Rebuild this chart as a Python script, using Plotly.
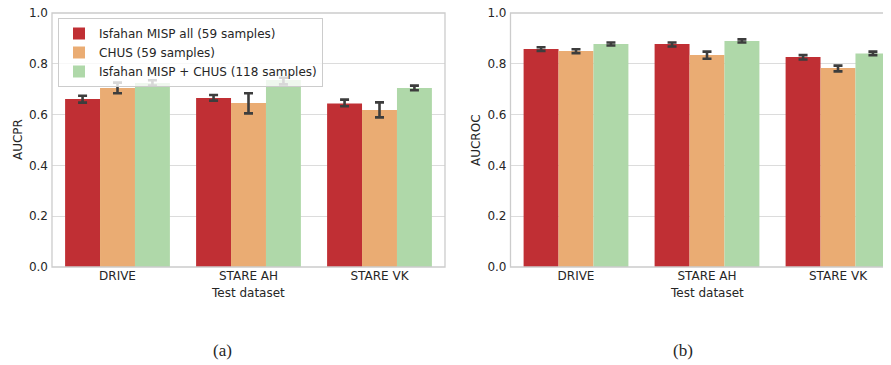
import plotly.graph_objects as go

# page is rendered with an 8px body margin; build the figure so that
# reference pixel coordinates map onto the page exactly
OFF = 8
W, H = 891 - OFF, 365 - OFF

categories = ["DRIVE", "STARE AH", "STARE VK"]
series_names = ["Isfahan MISP all (59 samples)", "CHUS (59 samples)",
                "Isfahan MISP + CHUS (118 samples)"]
colors = ["#c02f34", "#eaac73", "#afd8a9"]

# AUCPR (panel a): mean, lower CI, upper CI
aucpr_mean = [[0.661, 0.665, 0.644],
              [0.705, 0.646, 0.618],
              [0.724, 0.736, 0.705]]
aucpr_low = [[0.647, 0.655, 0.633],
             [0.684, 0.605, 0.589],
             [0.714, 0.719, 0.696]]
aucpr_high = [[0.674, 0.677, 0.659],
              [0.726, 0.684, 0.648],
              [0.735, 0.745, 0.714]]

# AUCROC (panel b)
aucroc_mean = [[0.858, 0.878, 0.827],
               [0.850, 0.835, 0.783],
               [0.878, 0.890, 0.841]]
aucroc_low = [[0.851, 0.868, 0.817],
              [0.842, 0.820, 0.770],
              [0.872, 0.884, 0.834]]
aucroc_high = [[0.865, 0.884, 0.834],
               [0.857, 0.848, 0.793],
               [0.884, 0.896, 0.848]]

yticks = [0.0, 0.2, 0.4, 0.6, 0.8, 1.0]

TXT = "#262626"
FONT = "DejaVu Sans"

fig = go.Figure()

def add_panel(means, lows, highs, xa, ya, showlegend):
    for i, name in enumerate(series_names):
        m = means[i]
        fig.add_trace(go.Bar(
            x=categories, y=m, name=name,
            marker=dict(color=colors[i], line=dict(width=0)),
            error_y=dict(type="data", symmetric=False,
                         array=[h - v for h, v in zip(highs[i], m)],
                         arrayminus=[v - l for v, l in zip(m, lows[i])],
                         color="#3d3d3d", thickness=2.6, width=4.5),
            xaxis=xa, yaxis=ya, showlegend=showlegend,
            offsetgroup=str(i),
        ))

add_panel(aucpr_mean, aucpr_low, aucpr_high, "x", "y", True)
add_panel(aucroc_mean, aucroc_low, aucroc_high, "x2", "y2", False)

def px(x):
    return (x - OFF) / W

def py(y):
    return (H - (y - OFF)) / H

top, bot = 13, 267
L1, R1 = 52, 445
L2, R2full = 510.5, 903.5
PAGE_R = 891
ydom = [py(bot), py(top)]

axis_common = dict(showline=False, zeroline=False, ticks="", automargin=False,
                   tickfont=dict(family=FONT, size=12, color=TXT),
                   ticklabeloverflow="allow")
fig.update_layout(
    width=W, height=H,
    margin=dict(l=0, r=0, t=0, b=0),
    paper_bgcolor="white", plot_bgcolor="white",
    barmode="group", bargap=0.2, bargroupgap=0,
    xaxis=dict(domain=[px(L1), px(R1)], range=[-0.5, 2.5], showgrid=False,
               type="category", **axis_common),
    yaxis=dict(domain=ydom, range=[0, 1], tickvals=yticks, tickformat=".1f",
               showgrid=True, gridcolor="#dcdcdc", gridwidth=1.2,
               ticklabelstandoff=3, **axis_common),
    xaxis2=dict(domain=[px(L2), 1.0],
                range=[-0.5, -0.5 + (PAGE_R - L2) / ((R2full - L2) / 3)],
                showgrid=False, type="category", anchor="y2", **axis_common),
    yaxis2=dict(domain=ydom, range=[0, 1], tickvals=yticks, tickformat=".1f",
                showgrid=True, gridcolor="#dcdcdc", gridwidth=1.2, anchor="x2",
                ticklabelstandoff=3, **axis_common),
    legend=dict(x=px(58), y=py(18), xanchor="left", yanchor="top",
                bgcolor="rgba(255,255,255,0.8)", bordercolor="#cccccc",
                borderwidth=1, font=dict(family=FONT, size=12, color=TXT),
                tracegroupgap=0),
    font=dict(family=FONT, size=12, color=TXT),
)

# axes frames
fig.add_shape(type="rect", xref="x domain", yref="y domain", x0=0, x1=1, y0=0, y1=1,
              line=dict(color="#cccccc", width=1.3), layer="above")
fig.add_shape(type="rect", xref="x2 domain", yref="y2 domain", x0=0,
              x1=(R2full - L2) / (PAGE_R - L2), y0=0, y1=1,
              line=dict(color="#cccccc", width=1.3), layer="above")

def ann(text, x, y, angle=0, size=12, family=FONT):
    fig.add_annotation(text=text, x=px(x), y=py(y), xref="paper", yref="paper",
                       showarrow=False, textangle=angle,
                       font=dict(family=family, size=size, color=TXT),
                       xanchor="center", yanchor="middle")

ann("AUCPR", 18, 140, angle=-90)
ann("Test dataset", (L1 + R1) / 2, 293)
ann("AUCROC", 476, 140, angle=-90)
ann("Test dataset", (L2 + R2full) / 2, 293)
ann("(a)", 222, 350, size=17, family="Liberation Serif")
ann("(b)", 683, 350, size=17, family="Liberation Serif")

fig.write_html("out.html")
